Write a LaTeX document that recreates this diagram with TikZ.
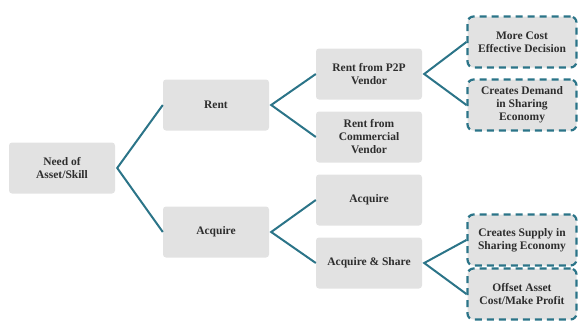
\documentclass[tikz,border=0pt]{standalone}
\usepackage{fontspec}
\setmainfont{Liberation Serif}
\definecolor{boxgray}{HTML}{E2E2E2}
\definecolor{tealline}{HTML}{2B7488}
\definecolor{textgray}{HTML}{2E2E2E}
\begin{document}
\begin{tikzpicture}[x=1pt,y=-1pt,
    choice/.style={fill=boxgray, rounded corners=3pt, minimum width=106pt, minimum height=51pt,
      align=center, font=\bfseries\fontsize{11.5}{13}\selectfont, text=textgray, inner sep=1pt},
    outcome/.style={choice, draw=tealline, line width=2.2pt, dash pattern=on 7pt off 5pt,
      rounded corners=6pt, minimum width=109pt, minimum height=51pt},
    branch/.style={tealline, line width=2pt}]
  \useasboundingbox (0,0) rectangle (580,322);

  % Raiz
  \node[choice] (need) at (62,168) {Need of\\Asset/Skill};

  % Primer nivel
  \node[choice] (rent) at (216,105) {Rent};
  \node[choice] (acq) at (216,232) {Acquire};

  % Segundo nivel
  \node[choice] (p2p) at (369,74) {Rent from P2P\\Vendor};
  \node[choice] (comm) at (369,137) {Rent from\\Commercial\\Vendor};
  \node[choice] (acqonly) at (369,200) {Acquire};
  \node[choice] (share) at (369,263) {Acquire \& Share};

  % Resultados
  \node[outcome] (cost) at (522,42) {More Cost\\Effective Decision};
  \node[outcome] (demand) at (522,105) {Creates Demand\\in Sharing\\Economy};
  \node[outcome] (supply) at (522,240) {Creates Supply in\\Sharing Economy};
  \node[outcome] (profit) at (522,294) {Offset Asset\\Cost/Make Profit};

  % Ramas
  \draw[branch] (rent.west) -- ([xshift=2pt]need.east) -- (acq.west);
  \draw[branch] (p2p.west) -- ([xshift=2pt]rent.east) -- (comm.west);
  \draw[branch] (acqonly.west) -- ([xshift=2pt]acq.east) -- (share.west);
  \draw[branch] (cost.west) -- ([xshift=2pt]p2p.east) -- (demand.west);
  \draw[branch] (supply.west) -- ([xshift=2pt]share.east) -- (profit.west);
\end{tikzpicture}
\end{document}
